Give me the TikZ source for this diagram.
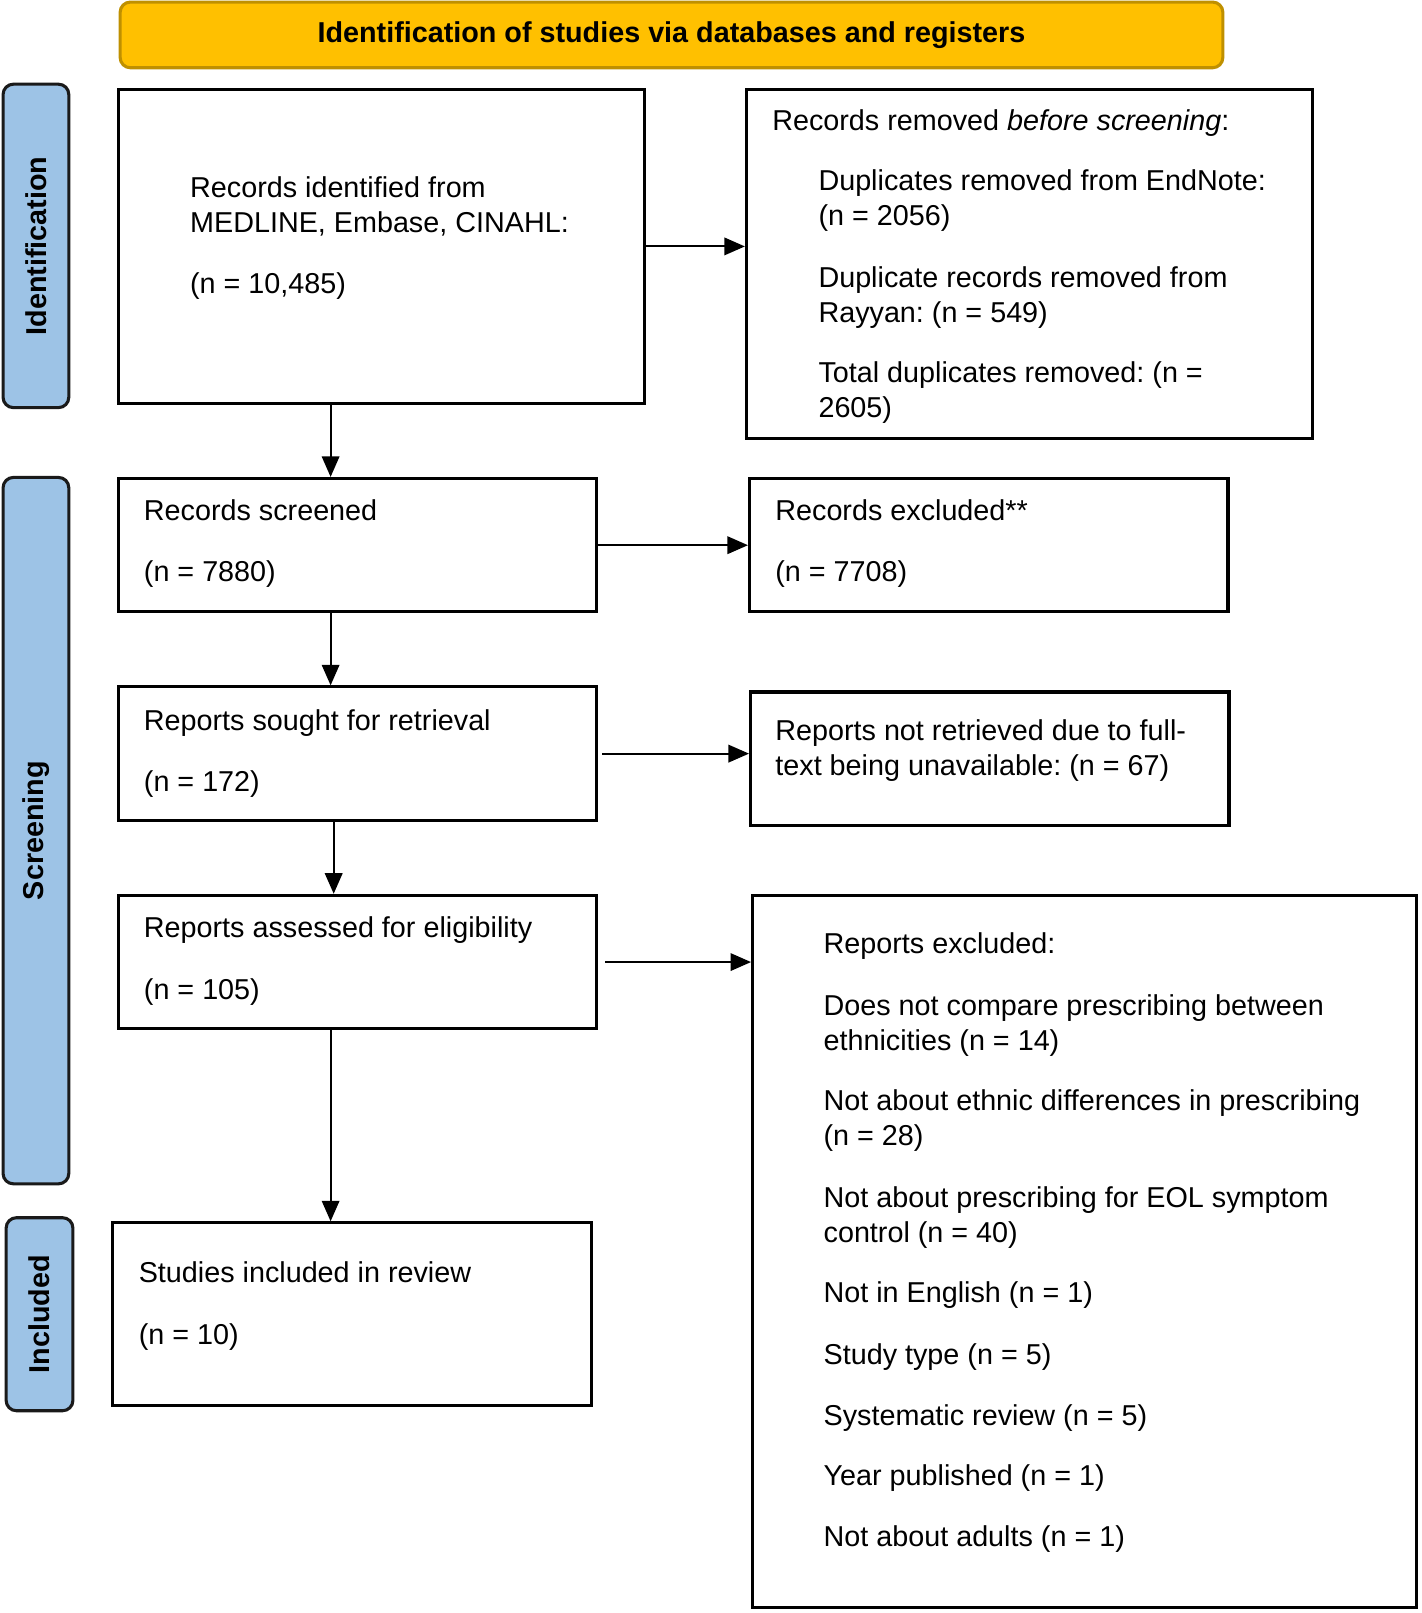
\documentclass[tikz,border=0pt]{standalone}
\usepackage{fontspec}
\setmainfont{Liberation Sans}
\usetikzlibrary{arrows.meta}
\definecolor{bannerfill}{HTML}{FFC000}
\definecolor{bannerline}{HTML}{BF9000}
\definecolor{sidefill}{HTML}{9DC3E6}
\definecolor{sideline}{HTML}{1A1A1A}
\newcommand\tline[4]{\node[tl] (#1) at (#2,#3) {#4};}
\frenchspacing
\begin{document}
\begin{tikzpicture}[x=1pt,y=-1pt,
  box/.style={draw=black,line width=3pt,fill=white,rectangle,inner sep=0pt},
  banner/.style={draw=bannerline,fill=bannerfill,line width=3pt,rounded corners=10pt,inner sep=0pt,
     font=\fontsize{28}{34}\selectfont\bfseries},
  side/.style={draw=sideline,fill=sidefill,line width=3pt,rounded corners=10pt,inner sep=0pt},
  sidelabel/.style={rotate=90,font=\fontsize{28}{34}\selectfont\bfseries,inner sep=0pt},
  tl/.style={anchor=base west,inner sep=0pt,font=\fontsize{28}{34}\selectfont\frenchspacing},
  arr/.style={line width=2pt,-{Triangle[length=20pt,width=17pt]}}
]
\useasboundingbox (0,0) rectangle (1384,1571);

% banner
\node[banner,minimum width=1074pt,minimum height=64pt] (ban) at (654,34) {Identification of studies via databases and registers};

% side bars
\node[side,minimum width=64pt,minimum height=315pt] (s1) at (35,239.5) {};
\node[sidelabel] (s1t) at (s1.center) {Identification};
\node[side,minimum width=64pt,minimum height=688pt] (s2) at (35,809) {};
\node[sidelabel] (s2t) at (s2.center) {Screening};
\node[side,minimum width=65pt,minimum height=188pt] (s3) at (38.5,1280) {};
\node[sidelabel] (s3t) at (s3.center) {Included};

% boxes
\node[box,minimum width=513pt,minimum height=306pt] (A) at (371.5,240) {};
\node[box,minimum width=551pt,minimum height=340pt] (B) at (1002.5,257) {};
\node[box,minimum width=466pt,minimum height=130pt] (C) at (348,531) {};
\node[box,minimum width=466pt,minimum height=130pt] (D) at (963,531) {};
\node[box,minimum width=466pt,minimum height=130pt] (E) at (348,734) {};
\node[box,minimum width=466pt,minimum height=130pt] (F) at (964,739) {};
\node[box,minimum width=466pt,minimum height=130pt] (G) at (348,937) {};
\node[box,minimum width=647pt,minimum height=694pt] (H) at (1056.5,1219) {};
\node[box,minimum width=466pt,minimum height=178pt] (I) at (343,1280) {};

% texts
\tline{a1}{185}{192}{Records identified from}
\tline{a2}{185}{226}{MEDLINE, Embase, CINAHL:}
\tline{a3}{185}{286}{(n = 10,485)}

\tline{b1}{752}{127}{Records removed \textit{before screening}:}
\tline{b2}{797}{186}{Duplicates removed from EndNote:}
\tline{b3}{797}{220}{(n = 2056)}
\tline{b4}{797}{280}{Duplicate records removed from}
\tline{b5}{797}{314}{Rayyan: (n = 549)}
\tline{b6}{797}{373}{Total duplicates removed: (n =}
\tline{b7}{797}{407}{2605)}

\tline{c1}{140}{507}{Records screened}
\tline{c2}{140}{566}{(n = 7880)}
\tline{d1}{755}{507}{Records excluded**}
\tline{d2}{755}{566}{(n = 7708)}

\tline{e1}{140}{711}{Reports sought for retrieval}
\tline{e2}{140}{771}{(n = 172)}
\tline{f1}{755}{721}{Reports not retrieved due to full-}
\tline{f2}{755}{755}{text being unavailable: (n = 67)}

\tline{g1}{140}{913}{Reports assessed for eligibility}
\tline{g2}{140}{973}{(n = 105)}

\tline{h1}{802}{929}{Reports excluded:}
\tline{h2}{802}{989}{Does not compare prescribing between}
\tline{h3}{802}{1023}{ethnicities (n = 14)}
\tline{h4}{802}{1082}{Not about ethnic differences in prescribing}
\tline{h5}{802}{1116}{(n = 28)}
\tline{h6}{802}{1176}{Not about prescribing for EOL symptom}
\tline{h7}{802}{1210}{control (n = 40)}
\tline{h8}{802}{1269}{Not in English (n = 1)}
\tline{h9}{802}{1329}{Study type (n = 5)}
\tline{h10}{802}{1388}{Systematic review (n = 5)}
\tline{h11}{802}{1447}{Year published (n = 1)}
\tline{h12}{802}{1506}{Not about adults (n = 1)}

\tline{i1}{135}{1249}{Studies included in review}
\tline{i2}{135}{1309}{(n = 10)}

% connectors
\coordinate (xa) at (322,0);
\coordinate (xb) at (325,0);
\draw[arr] (A.south -| xa) -- (C.north -| xa);
\draw[arr] (C.south -| xa) -- (E.north -| xa);
\draw[arr] (E.south -| xb) -- (G.north -| xb);
\draw[arr] (G.south -| xa) -- (I.north -| xa);
\draw[arr] (A.east) -- (A.east -| B.west);
\draw[arr] (C.east) -- (C.east -| D.west);
\draw[arr] ([xshift=4pt]E.east) -- (E.east -| F.west);
\draw[arr] ([xshift=7pt]G.east) -- (G.east -| H.west);
\end{tikzpicture}
\end{document}
